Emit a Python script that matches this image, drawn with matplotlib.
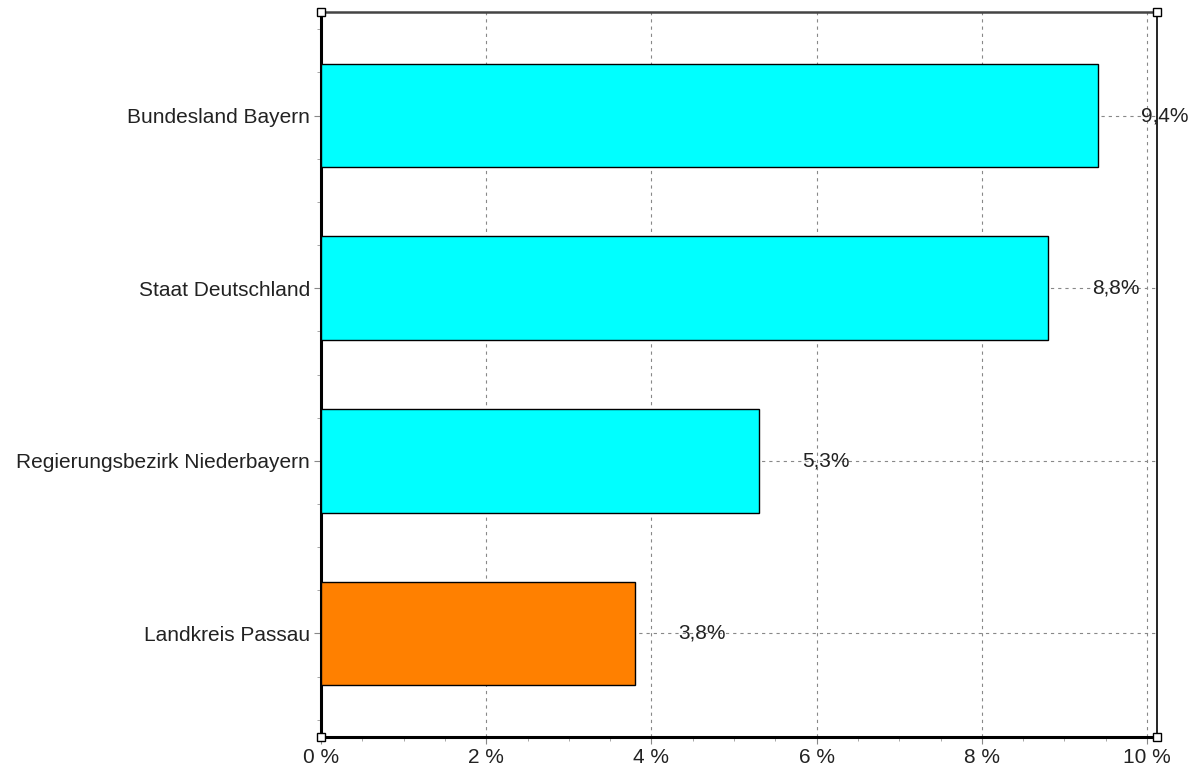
import numpy as np
import matplotlib.pyplot as plt
from matplotlib.ticker import MultipleLocator, FuncFormatter

# data, bottom to top
regions = ["Landkreis Passau", "Regierungsbezirk Niederbayern", "Staat Deutschland", "Bundesland Bayern"]
values = [3.8, 5.3, 8.8, 9.4]
colors = ["#FF8000", "#00FFFF", "#00FFFF", "#00FFFF"]

plt.rcParams["font.family"] = ["Liberation Sans", "DejaVu Sans"]
fs = 15

fig = plt.figure(figsize=(11.98, 7.76), dpi=100)
ax = fig.add_axes([321/1198, 39/776, 836/1198, 725/776])

ypos = np.arange(len(regions))
ax.barh(ypos, values, height=0.6, color=colors, edgecolor="black", linewidth=1, zorder=3)

# value labels next to the bars
for y, v in zip(ypos, values):
    ax.text(v + 0.53, y, ("%.1f%%" % v).replace(".", ","), va="center", ha="left",
            fontsize=fs, color="#222222", zorder=4, clip_on=False)

ax.set_xlim(0, 10.12)
ax.set_ylim(-0.6, 3.6)
ax.set_yticks(ypos)
ax.set_yticklabels(regions, fontsize=fs, color="#222222")
ax.xaxis.set_major_locator(MultipleLocator(2))
ax.xaxis.set_minor_locator(MultipleLocator(0.5))
ax.yaxis.set_minor_locator(MultipleLocator(0.25))
ax.xaxis.set_major_formatter(FuncFormatter(lambda x, p: "%d %%" % round(x)))
ax.tick_params(axis="x", labelsize=fs, labelcolor="#222222", length=5, color="#888888", pad=3)
ax.tick_params(axis="y", length=5, color="#888888", pad=3)
ax.tick_params(which="minor", length=3, color="#999999")

ax.grid(True, axis="both", linestyle=(0, (2.9, 3.6)), color="#888888", linewidth=0.8, zorder=0)
ax.set_axisbelow(True)

ax.spines["left"].set_linewidth(2.2)
ax.spines["bottom"].set_linewidth(2.2)
ax.spines["top"].set_linewidth(1.8)
ax.spines["top"].set_color("#444444")
ax.spines["right"].set_linewidth(1.2)

# small handles at the corners
for cx, cy in [(0, 0), (0, 1), (1, 0), (1, 1)]:
    ax.plot(cx, cy, marker="s", markersize=6, markerfacecolor="white", markeredgecolor="black",
            markeredgewidth=1, transform=ax.transAxes, clip_on=False, zorder=6)

fig.savefig("out.png", dpi=100)
